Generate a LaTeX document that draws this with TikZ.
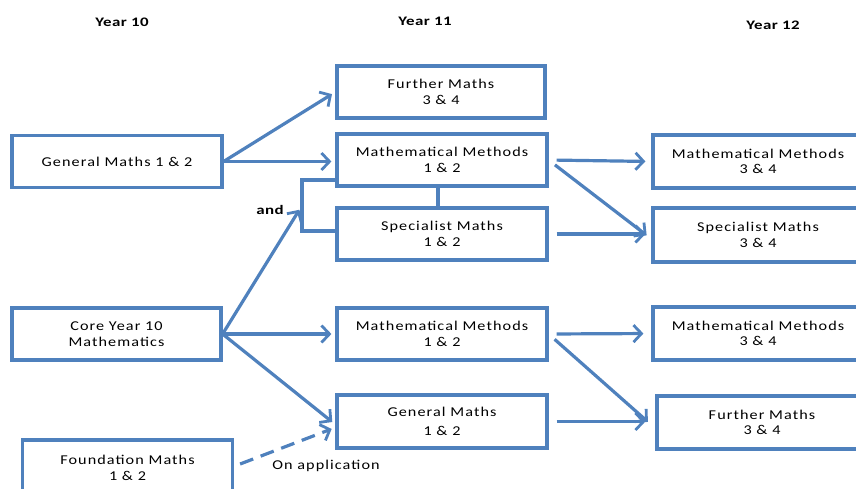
\documentclass[tikz,border=0pt]{standalone}
\usepackage{fontspec}
\setmainfont{Carlito}[FakeStretch=1.2,LetterSpace=8]
\newfontfamily\headfont{Carlito}[FakeStretch=1.3,LetterSpace=3]
\usetikzlibrary{arrows.meta}
\definecolor{lineblue}{RGB}{79,129,189}
\tikzset{
  box/.style={draw=lineblue, line width=3.2pt, rectangle, minimum height=52pt,
    align=center, font=\fontsize{13.5}{15.5}\selectfont, inner sep=0pt},
  colbox/.style={box, minimum width=210pt},
  head/.style={font=\headfont\fontsize{13}{15}\selectfont\bfseries},
  conn/.style={draw=lineblue, line width=3.2pt},
  arr/.style={conn, -{Straight Barb[length=8pt,width=17pt,line width=2.8pt]}, shorten >=4pt},
}
\begin{document}
\begin{tikzpicture}[x=1pt,y=-1pt]
\useasboundingbox (0,0) rectangle (856,488);
\node[head] (h10) at (122,22) {Year 10};
\node[head] (h11) at (425,21) {Year 11};
\node[head] (h12) at (773,25) {Year 12};

\node[colbox] (gm10) at (117,161.5) {General Maths 1 \& 2};
\node[colbox, minimum width=209pt] (core) at (116.5,334) {Core Year 10\\Mathematics};
\node[colbox, minimum height=56pt] (found) at (127.5,468) {Foundation Maths\\1 \& 2};

\node[colbox, minimum width=208pt] (f34) at (441,92) {Further Maths\\3 \& 4};
\node[colbox] (mm12a) at (442,160) {Mathematical Methods\\1 \& 2};
\node[colbox] (sp12) at (442,234) {Specialist Maths\\1 \& 2};
\node[colbox] (mm12b) at (442,334) {Mathematical Methods\\1 \& 2};
\node[colbox, minimum height=53pt] (gm12) at (442,421.5) {General Maths\\[3pt]1 \& 2};

\node[colbox, minimum height=53pt] (mm34a) at (758,161.5) {Mathematical Methods\\3 \& 4};
\node[colbox, minimum height=54pt] (sp34) at (758,235) {Specialist Maths\\3 \& 4};
\node[colbox, minimum height=53pt] (mm34b) at (758,333.5) {Mathematical Methods\\3 \& 4};
\node[colbox, minimum height=53pt] (fm34) at (762,422.5) {Further Maths\\3 \& 4};

\node[head] (andlbl) at (270,210) {and};
\node[font=\fontsize{13.5}{15}\selectfont] (onapp) at (326,466) {On application};

% bracket joining Methods and Specialist
\coordinate (brt) at (302,180);
\coordinate (brb) at (302,231);
\coordinate (brm) at (302,205.5);
\draw[conn] (mm12a.west |- brt) -- (brt) -- (brb) -- (sp12.west |- brb);
\draw[conn] (mm12a.south -| 438,0) -- (sp12.north -| 438,0);

% Year 10 -> Year 11
\draw[arr] (gm10.east) -- (f34.west);
\draw[arr] (gm10.east) -- (mm12a.west |- gm10.east);
\draw[arr, shorten >=5pt] (core.east) -- (brm);
\draw[arr] (core.east) -- (mm12b.west);
\draw[arr] (core.east) -- ([yshift=-3pt]gm12.west);
\draw[arr, dashed, dash pattern=on 14pt off 8pt] ([xshift=6pt,yshift=4pt]found.east) -- ([yshift=-6pt]gm12.west);

% Year 11 -> Year 12
\draw[arr, shorten <=8pt, shorten >=6pt] (mm12a.east) -- (mm34a.west);
\draw[arr, shorten <=8pt, shorten >=6pt] (mm12a.east) -- ([yshift=-4pt]sp34.west);
\draw[arr, shorten <=8pt, shorten >=6pt] (sp12.east) -- (sp34.west |- sp12.east);
\draw[arr, shorten <=8pt, shorten >=8pt] (mm12b.east) -- (mm34b.west);
\draw[arr, shorten <=8pt, shorten >=10pt] (mm12b.east) -- ([yshift=-6pt]fm34.west);
\draw[arr, shorten <=8pt, shorten >=10pt] (gm12.east) -- (fm34.west |- gm12.east);
\end{tikzpicture}
\end{document}
